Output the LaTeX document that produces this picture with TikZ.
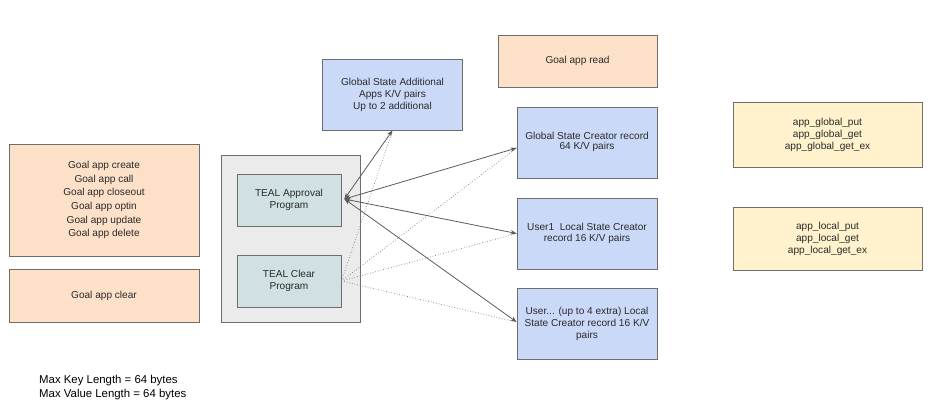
\documentclass[tikz,border=0pt]{standalone}
\usepackage{fontspec}
\setmainfont{Liberation Sans}
\usetikzlibrary{arrows.meta,calc}
\definecolor{orfill}{HTML}{FCE0C8}
\definecolor{blfill}{HTML}{C9D9F7}
\definecolor{tefill}{HTML}{D0E0E3}
\definecolor{grfill}{HTML}{EBEBEB}
\definecolor{yefill}{HTML}{FFF2CC}
\definecolor{bord}{HTML}{6E6E6E}
\definecolor{txt}{HTML}{2A2A2A}
\definecolor{lin}{HTML}{5A5A5A}
\begin{document}
\begin{tikzpicture}[x=1pt,y=-1pt,
  box/.style={draw=bord,line width=0.8pt,rectangle,align=center,inner sep=0pt,
    text=txt,font=\fontsize{10.1}{12}\selectfont},
  orbox/.style={box,fill=orfill},
  blbox/.style={box,fill=blfill,minimum width=140pt,minimum height=71pt},
  tebox/.style={box,fill=tefill,minimum width=104pt,minimum height=52pt},
  yebox/.style={box,fill=yefill,minimum width=189pt},
  solidarr/.style={draw=lin,line width=0.8pt,{Stealth[length=6pt,width=4.5pt]}-{Stealth[length=6pt,width=4.5pt]}},
  dotarr/.style={draw=lin!80,line width=0.7pt,dotted}
]
\fill[white] (0,0) rectangle (933,405);
\useasboundingbox (0,0) rectangle (933,405);

% left orange boxes
\node[orbox,minimum width=190pt,minimum height=112pt,font=\fontsize{10.1}{13.6}\selectfont] (ops) at (104,200)
  {Goal app create\\Goal app call\\Goal app closeout\\Goal app optin\\Goal app update\\Goal app delete};
\node[orbox,minimum width=190pt,minimum height=53pt] (clear) at (104,295.5) {Goal app clear};
\node[orbox,minimum width=159pt,minimum height=52pt] (read) at (577.5,61) {Goal app read};

% gray container
\node[draw=bord,line width=0.8pt,fill=grfill,minimum width=139pt,minimum height=167pt,inner sep=0pt] (cont) at (290.5,238.5) {};
\node[tebox] (appr) at (289,200) {TEAL Approval\\Program};
\node[tebox] (clr) at (289,281) {TEAL Clear\\Program};

% blue boxes
\node[blbox] (add) at (392.5,94.5) {Global State Additional\\Apps K/V pairs\\Up to 2 additional};
\node[blbox] (gc) at (587,142.5) {\raisebox{3pt}{\shortstack{Global State Creator record\\64 K/V pairs}}};
\node[blbox] (u1) at (587,233.5) {\raisebox{2pt}{\shortstack{User1\ \ Local State Creator\\record 16 K/V pairs}}};
\node[blbox] (un) at (587,324) {User... (up to 4 extra) Local\\State Creator record 16 K/V\\pairs};

% yellow boxes
\node[yebox,minimum height=65pt] (glob) at (827.5,134.5) {app\_global\_put\\app\_global\_get\\app\_global\_get\_ex};
\node[yebox,minimum height=63pt] (loc) at (827.5,238.5) {app\_local\_put\\app\_local\_get\\app\_local\_get\_ex};

% note
\node[anchor=north west,align=left,inner sep=0pt,text=black,font=\fontsize{11.4}{14}\selectfont] (note) at (39,375)
  {Max Key Length = 64 bytes\\Max Value Length = 64 bytes};

% connectors
\coordinate (ap) at ($(appr.east)+(3,-1)$);
\coordinate (gcin) at ($(gc.west)+(0,5.5)$);
\coordinate (unin) at ($(un.west)+(0,-2)$);
\draw[dotarr] (clr.east) -- (add.south);
\draw[dotarr] (clr.east) -- (gcin);
\draw[dotarr] (clr.east) -- (u1.west);
\draw[dotarr] (clr.east) -- (unin);
\draw[solidarr] (ap) -- (add.south);
\draw[solidarr] (ap) -- (gcin);
\draw[solidarr] (ap) -- (u1.west);
\draw[solidarr] (ap) -- (unin);
\end{tikzpicture}
\end{document}
